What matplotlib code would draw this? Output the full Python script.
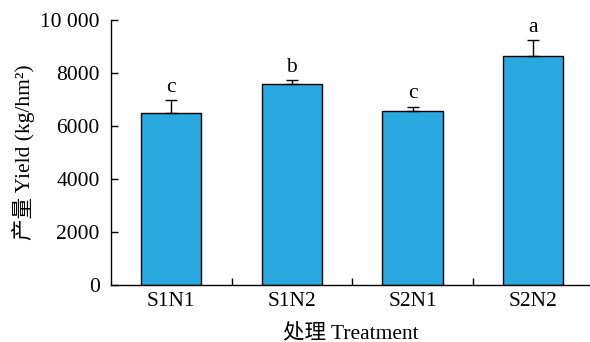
import matplotlib
matplotlib.use("Agg")
import matplotlib.pyplot as plt
import numpy as np

plt.rcParams['font.family'] = ['Liberation Serif', 'Noto Sans CJK SC']

categories = ["S1N1", "S1N2", "S2N1", "S2N2"]
yield_vals = [6500, 7600, 6570, 8640]
errors = [480, 140, 160, 590]
letters = ["c", "b", "c", "a"]
yticks = [0, 2000, 4000, 6000, 8000, 10000]
ytick_labels = ["0", "2000", "4000", "6000", "8000", "10 000"]

FS = 15.5

fig = plt.figure(figsize=(5.9, 3.42), dpi=100)
ax = fig.add_axes([0.188, 0.1667, 0.812, 0.7748])

x = np.arange(len(categories))
ax.bar(x, yield_vals, width=0.5, color="#29A9E0", edgecolor="black", linewidth=1.0, zorder=2)
ax.errorbar(x, yield_vals, yerr=[[0]*len(errors), errors], fmt="none", ecolor="black",
            elinewidth=1.0, capsize=4, capthick=1.0, zorder=3)
for xi, v, e, l in zip(x, yield_vals, errors, letters):
    ax.text(xi, v + e + 120, l, ha="center", va="bottom", fontsize=FS)

ax.set_xlim(-0.5, 3.47)
ax.set_ylim(0, 10000)
ax.set_yticks(yticks)
ax.set_yticklabels(ytick_labels, fontsize=FS)
ax.set_xticks([0.5, 1.5, 2.5])
ax.set_xticklabels([])
ax.set_xticks(x, minor=True)
ax.set_xticklabels(categories, minor=True, fontsize=FS)
ax.tick_params(axis="x", which="minor", length=0, pad=5)
ax.tick_params(axis="x", which="major", direction="in", length=5, width=1)
ax.tick_params(axis="y", direction="in", length=5, width=1, pad=8)

for s in ["top", "right"]:
    ax.spines[s].set_visible(False)
for s in ["left", "bottom"]:
    ax.spines[s].set_linewidth(1.0)

ax.set_ylabel("产量 Yield (kg/hm²)", fontsize=FS, labelpad=4)
ax.set_xlabel("处理 Treatment", fontsize=FS, labelpad=9)

fig.savefig("out.png", dpi=100)
